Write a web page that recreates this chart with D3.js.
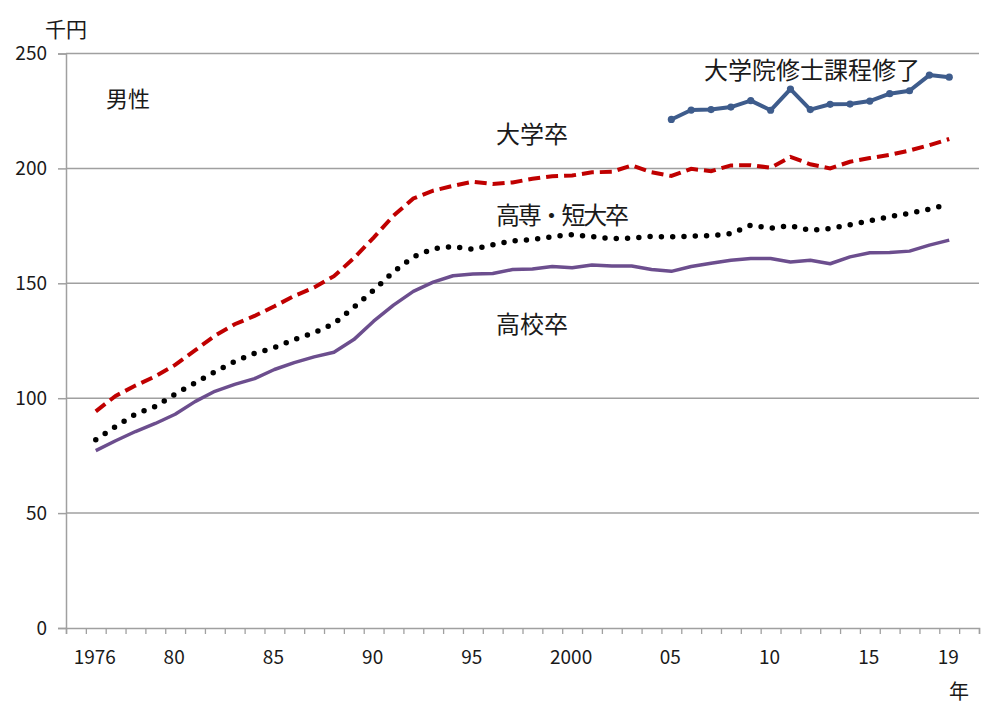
<!DOCTYPE html>
<html>
<head>
<meta charset="utf-8">
<script src="https://cdn.jsdelivr.net/npm/d3@7"></script>
<style>
  html, body { margin: 0; padding: 0; background: #fff; }
  svg text { font-family: "Noto Sans CJK JP", "Noto Sans", sans-serif; fill: #1a1a1a; }
</style>
</head>
<body>
<svg id="chart" width="997" height="704"></svg>
<script>
// ---- data ----
const years = [1976,1977,1978,1979,1980,1981,1982,1983,1984,1985,1986,1987,1988,1989,1990,
  1991,1992,1993,1994,1995,1996,1997,1998,1999,2000,2001,2002,2003,2004,2005,2006,2007,2008,
  2009,2010,2011,2012,2013,2014,2015,2016,2017,2018,2019];
const gradYears = [2005,2006,2007,2008,2009,2010,2011,2012,2013,2014,2015,2016,2017,2018,2019];

const graduate = [221.3,225.4,225.6,226.7,229.5,225.3,234.5,225.6,227.9,228.0,229.3,232.5,233.8,240.6,239.7];
const university = [94.3,101.0,105.5,109.5,114.5,120.8,127.2,132.2,135.8,140.0,144.5,148.2,153.1,160.9,169.9,
  179.4,186.9,190.3,192.4,194.2,193.2,193.9,195.5,196.6,196.9,198.3,198.5,201.3,198.3,196.7,199.8,198.8,201.3,
  201.4,200.3,205.0,201.8,200.0,202.9,204.5,205.9,207.8,210.1,212.8];
const juniorCollege = [81.9,87.7,93.1,96.4,101.8,106.6,111.5,116.0,119.5,122.0,125.5,128.5,132.5,139.5,147.0,
  155.0,161.5,165.0,166.0,164.8,166.8,168.5,169.0,170.3,171.2,170.3,169.4,169.7,170.4,170.2,170.5,170.7,171.6,
  175.3,174.0,175.1,173.0,173.8,175.5,177.2,179.0,180.4,182.3,184.5];
const highSchool = [77.2,81.5,85.5,89.0,93.0,98.5,103.0,106.0,108.5,112.5,115.5,118.0,120.0,125.5,133.5,
  140.5,146.5,150.5,153.3,154.0,154.3,156.0,156.2,157.3,156.8,158.0,157.5,157.5,156.0,155.2,157.3,158.7,160.0,
  160.8,160.8,159.3,160.0,158.5,161.5,163.3,163.4,164.0,166.6,168.8];

const xTickYears = [1976,1980,1985,1990,1995,2000,2005,2010,2015,2019];
const xTickLabels = ["1976","80","85","90","95","2000","05","10","15","19"];
const yTicks = [0,50,100,150,200,250];

// ---- layout ----
const svg = d3.select("#chart");
const pLeft = 66, pRight = 979, pTop = 53.5, pBottom = 628;
const x = d3.scaleLinear().domain([1974.5, 2020.5]).range([pLeft, pRight]);
const y = d3.scaleLinear().domain([0, 250]).range([pBottom, pTop]);
const gray = "#a0a0a0";

// gridlines + y ticks
const yAxis = d3.axisLeft(y).tickValues(yTicks).tickSize(8).tickPadding(11);
const gy = svg.append("g").attr("transform", `translate(${pLeft},0)`).call(yAxis);
gy.select(".domain").attr("stroke", gray).attr("stroke-width", 1.5);
gy.selectAll(".tick line").attr("stroke", gray).attr("stroke-width", 1.5);
gy.selectAll(".tick text").style("font-size", "19px").attr("fill", "#1a1a1a");

svg.append("g").selectAll("line").data(yTicks.filter(d => d > 0)).join("line")
  .attr("x1", pLeft).attr("x2", pRight)
  .attr("y1", d => y(d)).attr("y2", d => y(d))
  .attr("stroke", gray).attr("stroke-width", 1.5);

// x axis
const edges = d3.range(1974.5, 2021, 1);
const xAxis = d3.axisBottom(x).tickValues(edges).tickSize(6).tickFormat("");
const gx = svg.append("g").attr("transform", `translate(0,${pBottom})`).call(xAxis);
gx.select(".domain").attr("stroke", gray).attr("stroke-width", 1.5);
gx.selectAll(".tick line").attr("stroke", gray).attr("stroke-width", 1.3);

svg.append("g").selectAll("text").data(xTickYears).join("text")
  .attr("x", d => x(d) - 1).attr("y", 655)
  .attr("text-anchor", "middle").attr("dominant-baseline", "central")
  .style("font-size", "19px")
  .text((d, i) => xTickLabels[i]);

// ---- lines ----
const line = d3.line().x(d => x(d[0])).y(d => y(d[1]));
const zip = (xs, vs) => xs.map((v, i) => [v, vs[i]]);

svg.append("path").datum(zip(years, highSchool))
  .attr("d", line).attr("fill", "none")
  .attr("stroke", "#6c4e8e").attr("stroke-width", 3.5).attr("stroke-linejoin", "round");

svg.append("path").datum(zip(years, juniorCollege))
  .attr("d", line).attr("fill", "none")
  .attr("stroke", "#000").attr("stroke-width", 5.5)
  .attr("stroke-linecap", "round").attr("stroke-dasharray", "0,11.3");

svg.append("path").datum(zip(years, university))
  .attr("d", line).attr("fill", "none")
  .attr("stroke", "#c00000").attr("stroke-width", 4)
  .attr("stroke-dasharray", "12,6");

svg.append("path").datum(zip(gradYears, graduate))
  .attr("d", line).attr("fill", "none")
  .attr("stroke", "#3e5c8c").attr("stroke-width", 4).attr("stroke-linejoin", "round");
svg.append("g").selectAll("circle").data(zip(gradYears, graduate)).join("circle")
  .attr("cx", d => x(d[0])).attr("cy", d => y(d[1])).attr("r", 3.6)
  .attr("fill", "#3e5c8c");

// ---- labels ----
const label = (t, xx, yy, size, anchor) => svg.append("text")
  .attr("x", xx).attr("y", yy).attr("text-anchor", anchor || "start")
  .attr("dominant-baseline", "central").style("font-size", size + "px").text(t);

label("千円", 45, 28, 21);
label("男性", 106, 97, 22);
label("年", 949, 690, 20);
label("大学院修士課程修了", 704, 68, 24);
label("大学卒", 496, 132, 24);
label("高専・短大卒", 496, 213, 24)
  .attr("textLength", 133).attr("lengthAdjust", "spacing");
label("高校卒", 496, 322, 24);
</script>
</body>
</html>
